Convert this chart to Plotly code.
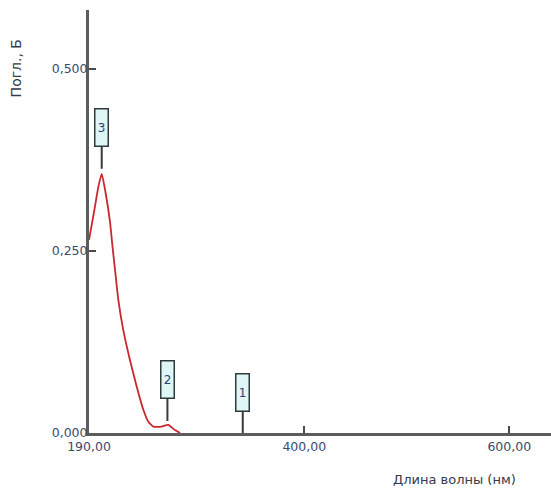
import plotly.graph_objects as go

# Absorption spectrum
wavelength_nm = [190, 195.2, 199.1, 202.4, 206.3, 210.5, 213, 215.4, 218.6, 223.5, 230, 236.5, 243,
                 247.9, 252.7, 257, 260.9, 264.5, 267.4, 270.5, 273.9, 278.8]
absorbance = [0.265, 0.306, 0.338, 0.356, 0.329, 0.29, 0.255, 0.224, 0.183, 0.141, 0.100, 0.064, 0.032,
              0.0155, 0.0087, 0.0083, 0.0088, 0.0105, 0.011, 0.008, 0.004, 0.0]

# Peak markers
peak_nm = [340, 266.5, 202.4]
peak_abs = [0.0, 0.011, 0.356]
peak_labels = ["1", "2", "3"]

# Axis ticks
x_tickvals = [190, 400, 600]
x_ticktext = ["190,00", "400,00", "600,00"]
y_tickvals = [0.0, 0.25, 0.5]
y_ticktext = ["0,000", "0,250", "0,500"]

fig = go.Figure()
fig.add_trace(go.Scatter(
    x=wavelength_nm, y=absorbance, mode="lines",
    line=dict(color="#c9282e", width=1.8, shape="spline", smoothing=0.5),
    hoverinfo="skip", showlegend=False,
))

standoffs = [0, 4, 5]
for nm, a, lab, so in zip(peak_nm, peak_abs, peak_labels, standoffs):
    fig.add_annotation(
        x=nm, y=a, xref="x", yref="y",
        text=lab, showarrow=True, arrowhead=0, arrowwidth=2, arrowcolor="#3a3a3a",
        ax=0, ay=-(so + 22 + 19), standoff=so,
        width=10, height=34, borderpad=1, borderwidth=1.5,
        bordercolor="#2f3a3a", bgcolor="#def6f6",
        font=dict(family="DejaVu Sans", size=12, color="#2d3f72"),
    )

tick_font = dict(family="DejaVu Sans", size=12.5, color="#3c4a6e")
fig.update_xaxes(
    range=[190, 640.7], tickvals=x_tickvals, ticktext=x_ticktext,
    showline=True, linecolor="#5c5c5c", linewidth=3,
    ticks="inside", ticklen=7, tickwidth=2, tickcolor="#4a4a4a",
    showgrid=False, zeroline=False, tickfont=tick_font,
)
fig.update_yaxes(
    range=[0, 0.581], tickvals=y_tickvals, ticktext=y_ticktext,
    showline=True, linecolor="#5c5c5c", linewidth=3,
    ticks="inside", ticklen=7, tickwidth=2, tickcolor="#4a4a4a",
    showgrid=False, zeroline=False, tickfont=tick_font,
    ticklabelstandoff=-4,
)

fig.add_annotation(text="Погл., Б", xref="paper", yref="paper", x=-0.158, y=0.862,
                   xanchor="center", yanchor="middle", textangle=-90,
                   showarrow=False, font=dict(family="DejaVu Sans", size=14, color="#333a48"))
fig.add_annotation(text="Длина волны (нм)", xref="paper", yref="paper", x=0.928, y=-0.11,
                   xanchor="right", yanchor="middle",
                   showarrow=False, font=dict(family="DejaVu Sans", size=13, color="#333a48"))

fig.update_layout(
    width=551, height=495,
    margin=dict(l=89, r=0, t=10, b=62),
    paper_bgcolor="white", plot_bgcolor="white",
)

fig.write_html("out.html")
